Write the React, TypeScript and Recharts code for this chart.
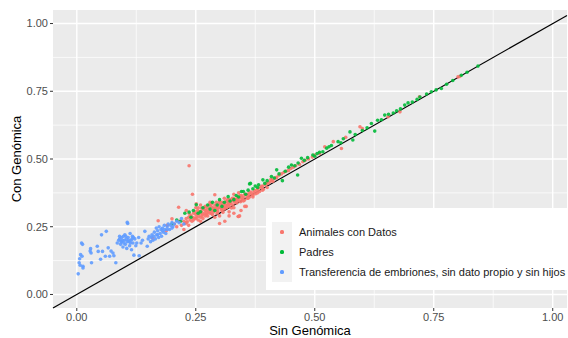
import React from 'react';
import {
  ScatterChart,
  Scatter,
  XAxis,
  YAxis,
  CartesianGrid,
  ReferenceLine,
  Legend
} from 'recharts';

// [Sin Genómica, Con Genómica]
const transferencia: [number, number][] = [
  [0.003, 0.076], [0.005, 0.117], [0.006, 0.132], [0.008, 0.147], [0.011, 0.141], [0.01, 0.19],
  [0.012, 0.185], [0.013, 0.104], [0.013, 0.098], [0.007, 0.108], [0.029, 0.169], [0.03, 0.153],
  [0.031, 0.117], [0.028, 0.16], [0.043, 0.178], [0.045, 0.159], [0.052, 0.22], [0.054, 0.159],
  [0.05, 0.13], [0.062, 0.233], [0.06, 0.141], [0.066, 0.172], [0.069, 0.141], [0.076, 0.153],
  [0.078, 0.143], [0.082, 0.117], [0.072, 0.16], [0.085, 0.19], [0.088, 0.2], [0.09, 0.205],
  [0.092, 0.185], [0.094, 0.21], [0.095, 0.195], [0.097, 0.175], [0.098, 0.215], [0.1, 0.2],
  [0.101, 0.22], [0.102, 0.185], [0.104, 0.205], [0.105, 0.17], [0.106, 0.266], [0.107, 0.262],
  [0.108, 0.21], [0.11, 0.195], [0.111, 0.18], [0.112, 0.225], [0.114, 0.2], [0.115, 0.165],
  [0.117, 0.215], [0.118, 0.19], [0.12, 0.145], [0.122, 0.205], [0.124, 0.18], [0.126, 0.19],
  [0.13, 0.21], [0.131, 0.143], [0.135, 0.19], [0.138, 0.2], [0.143, 0.233], [0.148, 0.178],
  [0.15, 0.205], [0.152, 0.215], [0.155, 0.195], [0.157, 0.21], [0.158, 0.22], [0.16, 0.2],
  [0.162, 0.215], [0.163, 0.23], [0.165, 0.205], [0.167, 0.245], [0.168, 0.22], [0.17, 0.235],
  [0.172, 0.21], [0.173, 0.25], [0.175, 0.225], [0.177, 0.24], [0.178, 0.215], [0.18, 0.245],
  [0.182, 0.23], [0.184, 0.255], [0.185, 0.24], [0.187, 0.225], [0.19, 0.25], [0.192, 0.26],
  [0.195, 0.24], [0.197, 0.255], [0.2, 0.265], [0.202, 0.25], [0.205, 0.26], [0.21, 0.27],
  [0.215, 0.265], [0.22, 0.28], [0.225, 0.26], [0.09, 0.215], [0.093, 0.195], [0.096, 0.2],
  [0.099, 0.19], [0.103, 0.215], [0.106, 0.195], [0.109, 0.2], [0.113, 0.19], [0.116, 0.205],
  [0.119, 0.21], [0.18, 0.235], [0.19, 0.24], [0.2, 0.245], [0.17, 0.22]
];

const animales: [number, number][] = [
  [0.236, 0.475], [0.243, 0.37], [0.171, 0.272], [0.159, 0.208], [0.188, 0.235], [0.2, 0.279],
  [0.214, 0.322], [0.251, 0.335], [0.258, 0.306], [0.29, 0.368], [0.307, 0.303], [0.34, 0.288],
  [0.356, 0.325], [0.325, 0.319], [0.342, 0.29], [0.311, 0.27], [0.33, 0.3], [0.32, 0.29],
  [0.345, 0.31], [0.3, 0.262], [0.19, 0.255], [0.205, 0.26], [0.21, 0.25], [0.215, 0.27],
  [0.22, 0.255], [0.225, 0.27], [0.228, 0.262], [0.23, 0.28], [0.232, 0.268], [0.235, 0.285],
  [0.238, 0.275], [0.24, 0.29], [0.242, 0.27], [0.245, 0.3], [0.247, 0.282], [0.25, 0.295],
  [0.252, 0.285], [0.254, 0.31], [0.256, 0.29], [0.258, 0.3], [0.26, 0.285], [0.262, 0.305],
  [0.264, 0.295], [0.266, 0.315], [0.268, 0.3], [0.27, 0.31], [0.272, 0.295], [0.274, 0.32],
  [0.276, 0.305], [0.278, 0.315], [0.28, 0.3], [0.282, 0.325], [0.284, 0.31], [0.286, 0.32],
  [0.288, 0.305], [0.29, 0.33], [0.292, 0.315], [0.294, 0.325], [0.296, 0.31], [0.298, 0.335],
  [0.3, 0.32], [0.302, 0.33], [0.304, 0.315], [0.306, 0.34], [0.308, 0.325], [0.31, 0.335],
  [0.312, 0.32], [0.314, 0.345], [0.316, 0.33], [0.318, 0.34], [0.32, 0.325], [0.322, 0.35],
  [0.324, 0.335], [0.326, 0.345], [0.328, 0.33], [0.33, 0.355], [0.332, 0.34], [0.334, 0.35],
  [0.336, 0.338], [0.338, 0.36], [0.34, 0.345], [0.342, 0.355], [0.344, 0.342], [0.346, 0.365],
  [0.348, 0.35], [0.35, 0.36], [0.352, 0.348], [0.355, 0.37], [0.358, 0.355], [0.36, 0.368],
  [0.363, 0.36], [0.366, 0.378], [0.37, 0.365], [0.373, 0.383], [0.376, 0.372], [0.38, 0.39],
  [0.384, 0.38], [0.388, 0.398], [0.392, 0.388], [0.396, 0.405], [0.4, 0.395], [0.405, 0.415],
  [0.41, 0.42], [0.415, 0.428], [0.42, 0.432], [0.425, 0.44], [0.43, 0.445], [0.435, 0.45],
  [0.44, 0.455], [0.445, 0.458], [0.45, 0.465], [0.455, 0.47], [0.46, 0.475], [0.468, 0.48],
  [0.475, 0.49], [0.48, 0.495], [0.487, 0.5], [0.495, 0.507], [0.5, 0.515], [0.51, 0.52],
  [0.521, 0.545], [0.539, 0.564], [0.556, 0.539], [0.565, 0.58], [0.595, 0.619], [0.6, 0.612],
  [0.654, 0.656], [0.679, 0.674], [0.72, 0.73], [0.801, 0.803], [0.805, 0.805],
  [0.245, 0.275], [0.255, 0.275], [0.265, 0.28], [0.275, 0.29], [0.285, 0.295], [0.295, 0.3],
  [0.305, 0.31], [0.315, 0.32], [0.27, 0.325], [0.28, 0.34], [0.3, 0.345], [0.31, 0.355],
  [0.33, 0.37], [0.34, 0.375], [0.25, 0.32], [0.26, 0.33], [0.236, 0.3], [0.23, 0.31],
  [0.225, 0.24], [0.235, 0.255], [0.26, 0.27], [0.33, 0.32], [0.35, 0.345], [0.36, 0.355],
  [0.37, 0.36], [0.38, 0.375], [0.39, 0.385], [0.3, 0.29], [0.32, 0.305], [0.29, 0.285],
  [0.339, 0.288], [0.353, 0.325], [0.255, 0.32], [0.262, 0.318], [0.268, 0.322], [0.272, 0.31],
  [0.278, 0.33], [0.283, 0.335], [0.287, 0.31], [0.293, 0.34], [0.297, 0.32], [0.302, 0.34],
  [0.307, 0.33], [0.313, 0.33], [0.317, 0.35], [0.321, 0.335], [0.327, 0.355], [0.331, 0.345],
  [0.337, 0.35], [0.343, 0.365], [0.347, 0.355], [0.353, 0.37], [0.357, 0.365], [0.362, 0.375],
  [0.367, 0.37], [0.372, 0.375], [0.378, 0.385], [0.385, 0.395], [0.39, 0.4], [0.398, 0.41],
  [0.402, 0.41], [0.408, 0.425], [0.412, 0.418], [0.418, 0.43], [0.238, 0.29], [0.243, 0.285],
  [0.248, 0.305], [0.253, 0.3], [0.263, 0.29], [0.273, 0.3], [0.283, 0.3], [0.289, 0.318],
  [0.23, 0.265], [0.27, 0.29], [0.28, 0.31], [0.296, 0.305], [0.31, 0.315], [0.32, 0.338],
  [0.25, 0.28]
];

const padres: [number, number][] = [
  [0.218, 0.27], [0.227, 0.3], [0.236, 0.304], [0.251, 0.331], [0.255, 0.3], [0.24, 0.285],
  [0.265, 0.32], [0.275, 0.33], [0.285, 0.34], [0.29, 0.31], [0.3, 0.35], [0.305, 0.325],
  [0.318, 0.361], [0.322, 0.345], [0.33, 0.35], [0.335, 0.365], [0.346, 0.38], [0.35, 0.38],
  [0.355, 0.37], [0.363, 0.408], [0.365, 0.41], [0.37, 0.39], [0.375, 0.4], [0.382, 0.405],
  [0.391, 0.423], [0.395, 0.41], [0.4, 0.42], [0.409, 0.435], [0.415, 0.43], [0.42, 0.46],
  [0.425, 0.445], [0.432, 0.42], [0.438, 0.455], [0.445, 0.47], [0.451, 0.478], [0.458, 0.475],
  [0.464, 0.441], [0.465, 0.485], [0.472, 0.503], [0.478, 0.495], [0.485, 0.505], [0.496, 0.515],
  [0.5, 0.51], [0.505, 0.52], [0.51, 0.525], [0.517, 0.527], [0.525, 0.54], [0.53, 0.545],
  [0.535, 0.55], [0.549, 0.564], [0.555, 0.56], [0.56, 0.575], [0.574, 0.6], [0.58, 0.57],
  [0.585, 0.59], [0.6, 0.605], [0.61, 0.615], [0.619, 0.631], [0.626, 0.603], [0.632, 0.643],
  [0.64, 0.645], [0.647, 0.662], [0.655, 0.665], [0.665, 0.67], [0.672, 0.678], [0.68, 0.685],
  [0.689, 0.699], [0.696, 0.707], [0.705, 0.71], [0.715, 0.72], [0.721, 0.729], [0.735, 0.74],
  [0.745, 0.748], [0.755, 0.755], [0.766, 0.76], [0.777, 0.776], [0.79, 0.79], [0.808, 0.809],
  [0.82, 0.82], [0.843, 0.843], [0.2, 0.26], [0.21, 0.275], [0.245, 0.31], [0.26, 0.305],
  [0.28, 0.315], [0.295, 0.33], [0.31, 0.34], [0.34, 0.36], [0.36, 0.385], [0.38, 0.395]
];

const axisTicks = [0, 0.25, 0.5, 0.75, 1];
const minorTicks = [0.125, 0.375, 0.625, 0.875];

const series = [
  { name: 'Animales con Datos', color: '#F8766D', points: animales },
  { name: 'Padres', color: '#00BA38', points: padres },
  { name: 'Transferencia de embriones, sin dato propio y sin hijos', color: '#619CFF', points: transferencia }
];

const font = '"Liberation Sans", Arial, sans-serif';

const Dot = (props: any) => {
  const { cx, cy, fill } = props;
  if (cx == null || cy == null) return null;
  return <circle cx={cx} cy={cy} r={1.8} fill={fill} fillOpacity={0.9} />;
};

const renderLegend = () => (
  <div style={{ background: '#fff', width: 301, height: 82, boxSizing: 'border-box', paddingTop: 14, paddingLeft: 6, fontFamily: font }}>
    {series.map(s => (
      <div key={s.name} style={{ display: 'flex', alignItems: 'center', height: 20 }}>
        <div style={{ width: 20, height: 20, background: '#F2F2F2', position: 'relative' }}>
          <div style={{ position: 'absolute', left: 8.4, top: 8.4, width: 3.2, height: 3.2, borderRadius: '50%', background: s.color }} />
        </div>
        <span style={{ marginLeft: 7, fontSize: 11, color: '#1a1a1a', whiteSpace: 'nowrap' }}>{s.name}</span>
      </div>
    ))}
  </div>
);

export default function App() {
  return (
    <div style={{ position: 'absolute', left: 0, top: 0, background: '#fff' }}>
      <ScatterChart width={568} height={338} margin={{ top: 10, right: 1, bottom: 0, left: 0 }}>
        <CartesianGrid fill="#EBEBEB" stroke="#fff" strokeWidth={0.7}
          horizontalValues={minorTicks} verticalValues={minorTicks} />
        <CartesianGrid stroke="#fff" strokeWidth={1.4}
          horizontalValues={axisTicks} verticalValues={axisTicks} />
        <XAxis
          type="number"
          dataKey="x"
          domain={[-0.05, 1.03]}
          ticks={axisTicks}
          allowDataOverflow
          height={30}
          tickSize={3}
          tickMargin={2}
          axisLine={false}
          tickLine={{ stroke: '#333' }}
          tick={{ fill: '#4D4D4D', fontSize: 11, fontFamily: font }}
          tickFormatter={(v: number) => v.toFixed(2)}
          label={{ value: 'Sin Genómica', position: 'insideBottom', offset: 3, fill: '#000', fontSize: 13, fontFamily: font }}
        />
        <YAxis
          type="number"
          dataKey="y"
          domain={[-0.05, 1.05]}
          ticks={axisTicks}
          allowDataOverflow
          width={53}
          tickSize={3}
          tickMargin={2}
          axisLine={false}
          tickLine={{ stroke: '#333' }}
          tick={{ fill: '#4D4D4D', fontSize: 11, fontFamily: font }}
          tickFormatter={(v: number) => v.toFixed(2)}
          label={{ value: 'Con Genómica', angle: -90, position: 'insideLeft', offset: 16, fill: '#000', fontSize: 13, fontFamily: font, style: { textAnchor: 'middle' } }}
        />
        {series.map(s => (
          <Scatter
            key={s.name}
            name={s.name}
            data={s.points.map(([x, y]) => ({ x, y }))}
            fill={s.color}
            shape={<Dot />}
            isAnimationActive={false}
          />
        ))}
        <ReferenceLine
          segment={[{ x: -0.05, y: -0.05 }, { x: 1.03, y: 1.03 }]}
          stroke="#000"
          strokeWidth={1.2}
        />
        <Legend
          layout="vertical"
          align="center"
          verticalAlign="middle"
          content={renderLegend}
          wrapperStyle={{ left: 266, top: 208, width: 301, height: 82 }}
        />
      </ScatterChart>
    </div>
  );
}
